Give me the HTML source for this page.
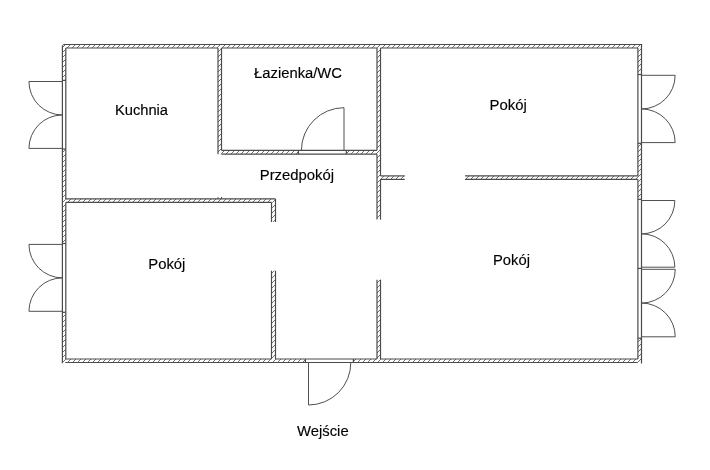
<!DOCTYPE html>
<html><head><meta charset="utf-8"><style>
html,body{margin:0;padding:0;background:#fff;width:710px;height:470px;overflow:hidden}
svg{display:block}
</style></head><body>
<svg style="will-change:transform" width="710" height="470" viewBox="0 0 710 470">
<defs><pattern id="h" patternUnits="userSpaceOnUse" width="5" height="5">
<path d="M-1,1 L1,-1 M0,5 L5,0 M4,6 L6,4" stroke="#707070" stroke-width="1.0"/></pattern></defs>
<rect width="710" height="470" fill="#fff"/>
<rect x="62.4" y="44.5" width="579.10" height="3.50" fill="url(#h)"/>
<rect x="62.4" y="48.0" width="3.40" height="32.40" fill="url(#h)"/>
<rect x="62.4" y="149.0" width="3.40" height="94.50" fill="url(#h)"/>
<rect x="62.4" y="312.3" width="3.40" height="46.70" fill="url(#h)"/>
<rect x="637.9" y="48.0" width="3.60" height="26.50" fill="url(#h)"/>
<rect x="637.9" y="143.3" width="3.60" height="56.00" fill="url(#h)"/>
<rect x="637.9" y="338.2" width="3.60" height="20.80" fill="url(#h)"/>
<rect x="62.4" y="359.0" width="243.00" height="3.50" fill="url(#h)"/>
<rect x="353.4" y="359.0" width="288.10" height="3.50" fill="url(#h)"/>
<rect x="218.0" y="48.0" width="3.50" height="106.20" fill="url(#h)"/>
<rect x="221.5" y="150.3" width="76.90" height="3.90" fill="url(#h)"/>
<rect x="346.3" y="150.3" width="30.70" height="3.90" fill="url(#h)"/>
<rect x="377.0" y="48.0" width="3.50" height="171.60" fill="url(#h)"/>
<rect x="377.0" y="279.7" width="3.50" height="79.30" fill="url(#h)"/>
<rect x="380.5" y="175.9" width="24.30" height="3.50" fill="url(#h)"/>
<rect x="465.0" y="175.9" width="172.90" height="3.50" fill="url(#h)"/>
<rect x="65.8" y="198.9" width="209.70" height="3.50" fill="url(#h)"/>
<rect x="271.5" y="202.4" width="4.00" height="19.60" fill="url(#h)"/>
<rect x="271.5" y="270.7" width="4.00" height="88.30" fill="url(#h)"/>
<line x1="63.6" y1="44.5" x2="642.1" y2="44.5" stroke="#4a4a4a" stroke-width="1.2"/>
<line x1="65.4" y1="362.5" x2="637.8" y2="362.5" stroke="#4a4a4a" stroke-width="1.2"/>
<line x1="62.4" y1="45.6" x2="62.4" y2="363.3" stroke="#4a4a4a" stroke-width="1.2"/>
<line x1="641.5" y1="43.9" x2="641.5" y2="363.5" stroke="#4a4a4a" stroke-width="1.2"/>
<line x1="62.4" y1="45.9" x2="63.9" y2="44.5" stroke="#4a4a4a" stroke-width="1.0"/>
<line x1="65.8" y1="48.0" x2="218.0" y2="48.0" stroke="#4a4a4a" stroke-width="1.2"/>
<line x1="221.5" y1="48.0" x2="377.0" y2="48.0" stroke="#4a4a4a" stroke-width="1.2"/>
<line x1="380.5" y1="48.0" x2="637.9" y2="48.0" stroke="#4a4a4a" stroke-width="1.2"/>
<line x1="65.8" y1="359.0" x2="271.5" y2="359.0" stroke="#4a4a4a" stroke-width="1.2"/>
<line x1="275.5" y1="359.0" x2="377.0" y2="359.0" stroke="#4a4a4a" stroke-width="1.2"/>
<line x1="380.5" y1="359.0" x2="637.9" y2="359.0" stroke="#4a4a4a" stroke-width="1.2"/>
<line x1="65.8" y1="48.0" x2="65.8" y2="198.9" stroke="#4a4a4a" stroke-width="1.2"/>
<line x1="65.8" y1="202.4" x2="65.8" y2="359.0" stroke="#4a4a4a" stroke-width="1.2"/>
<line x1="637.9" y1="48.0" x2="637.9" y2="175.9" stroke="#4a4a4a" stroke-width="1.2"/>
<line x1="637.9" y1="179.4" x2="637.9" y2="359.0" stroke="#4a4a4a" stroke-width="1.2"/>
<line x1="218.0" y1="48.0" x2="218.0" y2="154.2" stroke="#4a4a4a" stroke-width="1.2"/>
<line x1="221.5" y1="48.0" x2="221.5" y2="150.3" stroke="#4a4a4a" stroke-width="1.2"/>
<line x1="221.5" y1="154.2" x2="377.0" y2="154.2" stroke="#4a4a4a" stroke-width="1.2"/>
<line x1="221.5" y1="150.3" x2="377.0" y2="150.3" stroke="#4a4a4a" stroke-width="1.2"/>
<line x1="298.4" y1="150.3" x2="298.4" y2="154.2" stroke="#4a4a4a" stroke-width="1.2"/>
<line x1="346.3" y1="150.3" x2="346.3" y2="154.2" stroke="#4a4a4a" stroke-width="1.2"/>
<line x1="377.0" y1="48.0" x2="377.0" y2="150.3" stroke="#4a4a4a" stroke-width="1.2"/>
<line x1="377.0" y1="154.2" x2="377.0" y2="219.6" stroke="#4a4a4a" stroke-width="1.2"/>
<line x1="380.5" y1="48.0" x2="380.5" y2="175.9" stroke="#4a4a4a" stroke-width="1.2"/>
<line x1="380.5" y1="179.4" x2="380.5" y2="219.6" stroke="#4a4a4a" stroke-width="1.2"/>
<line x1="377.0" y1="219.6" x2="380.5" y2="219.6" stroke="#4a4a4a" stroke-width="0.0"/>
<line x1="377.0" y1="279.7" x2="377.0" y2="359.0" stroke="#4a4a4a" stroke-width="1.2"/>
<line x1="380.5" y1="279.7" x2="380.5" y2="359.0" stroke="#4a4a4a" stroke-width="1.2"/>
<line x1="380.5" y1="175.9" x2="404.8" y2="175.9" stroke="#4a4a4a" stroke-width="1.2"/>
<line x1="380.5" y1="179.4" x2="404.8" y2="179.4" stroke="#4a4a4a" stroke-width="1.2"/>
<line x1="465.0" y1="175.9" x2="637.9" y2="175.9" stroke="#4a4a4a" stroke-width="1.2"/>
<line x1="465.0" y1="179.4" x2="637.9" y2="179.4" stroke="#4a4a4a" stroke-width="1.2"/>
<line x1="65.8" y1="198.9" x2="275.5" y2="198.9" stroke="#4a4a4a" stroke-width="1.2"/>
<line x1="65.8" y1="202.4" x2="271.5" y2="202.4" stroke="#4a4a4a" stroke-width="1.2"/>
<line x1="275.5" y1="198.9" x2="275.5" y2="222.0" stroke="#4a4a4a" stroke-width="1.2"/>
<line x1="271.5" y1="202.4" x2="271.5" y2="222.0" stroke="#4a4a4a" stroke-width="1.2"/>
<line x1="271.5" y1="270.7" x2="271.5" y2="359.0" stroke="#4a4a4a" stroke-width="1.2"/>
<line x1="275.5" y1="270.7" x2="275.5" y2="359.0" stroke="#4a4a4a" stroke-width="1.2"/>
<line x1="218.0" y1="197.2" x2="218.0" y2="198.9" stroke="#4a4a4a" stroke-width="1.0"/>
<line x1="221.5" y1="197.0" x2="221.5" y2="198.9" stroke="#4a4a4a" stroke-width="1.0"/>
<line x1="62.4" y1="80.4" x2="65.8" y2="80.4" stroke="#4a4a4a" stroke-width="1.2"/>
<line x1="62.4" y1="149.0" x2="65.8" y2="149.0" stroke="#4a4a4a" stroke-width="1.2"/>
<line x1="62.4" y1="243.5" x2="65.8" y2="243.5" stroke="#4a4a4a" stroke-width="1.2"/>
<line x1="62.4" y1="312.3" x2="65.8" y2="312.3" stroke="#4a4a4a" stroke-width="1.2"/>
<line x1="637.9" y1="74.5" x2="641.5" y2="74.5" stroke="#4a4a4a" stroke-width="1.2"/>
<line x1="637.9" y1="143.3" x2="641.5" y2="143.3" stroke="#4a4a4a" stroke-width="1.2"/>
<line x1="637.9" y1="199.3" x2="641.5" y2="199.3" stroke="#4a4a4a" stroke-width="1.2"/>
<line x1="637.9" y1="268.4" x2="641.5" y2="268.4" stroke="#4a4a4a" stroke-width="1.2"/>
<line x1="637.9" y1="338.2" x2="641.5" y2="338.2" stroke="#4a4a4a" stroke-width="1.2"/>
<line x1="305.4" y1="359.0" x2="305.4" y2="362.5" stroke="#4a4a4a" stroke-width="1.2"/>
<line x1="353.4" y1="359.0" x2="353.4" y2="362.5" stroke="#4a4a4a" stroke-width="1.2"/>
<path d="M344.0 150.3 L344.0 107.7 A42.6 42.6 0 0 0 301.4 150.3" fill="none" stroke="#505050" stroke-width="1.0"/>
<path d="M308.5 362.3 L308.5 405.0 A42.3 42.3 0 0 0 350.8 362.3" fill="none" stroke="#505050" stroke-width="1.0"/>
<path d="M62.4 81.5 L28.95 81.5 A33.45 33.45 0 0 0 62.4 114.95 A33.45 33.45 0 0 0 28.95 148.4 L62.4 148.4" fill="none" stroke="#505050" stroke-width="1.0"/>
<path d="M62.4 244.4 L28.95 244.4 A33.45 33.45 0 0 0 62.4 277.85 A33.45 33.45 0 0 0 28.95 311.3 L62.4 311.3" fill="none" stroke="#505050" stroke-width="1.0"/>
<path d="M641.5 75.3 L675.15 75.3 A33.65 33.65 0 0 1 641.5 108.95 A33.65 33.65 0 0 1 675.15 142.6 L641.5 142.6" fill="none" stroke="#505050" stroke-width="1.0"/>
<path d="M641.5 200.5 L674.85 200.5 A33.35 33.35 0 0 1 641.5 233.85 A33.35 33.35 0 0 1 674.85 267.2 L641.5 267.2" fill="none" stroke="#505050" stroke-width="1.0"/>
<path d="M641.5 269.3 L675.25 269.3 A33.75 33.75 0 0 1 641.5 303.05 A33.75 33.75 0 0 1 675.25 336.8 L641.5 336.8" fill="none" stroke="#505050" stroke-width="1.0"/>
<g opacity="0.999" transform="translate(114.915,114.900) rotate(0.02) scale(0.9558,1)"><text x="0" y="0" font-family="Liberation Sans" font-size="15.4" fill="#000" stroke="#000" stroke-width="0.15">Kuchnia</text></g>
<g opacity="0.999" transform="translate(254.054,77.700) rotate(0.02) scale(0.9608,1)"><text x="0" y="0" font-family="Liberation Sans" font-size="15.4" fill="#000" stroke="#000" stroke-width="0.15">Łazienka/WC</text></g>
<g opacity="0.999" transform="translate(259.760,179.500) rotate(0.02) scale(0.9663,1)"><text x="0" y="0" font-family="Liberation Sans" font-size="15.4" fill="#000" stroke="#000" stroke-width="0.15">Przedpokój</text></g>
<g opacity="0.999" transform="translate(489.559,109.700) rotate(0.02) scale(0.9701,1)"><text x="0" y="0" font-family="Liberation Sans" font-size="15.4" fill="#000" stroke="#000" stroke-width="0.15">Pokój</text></g>
<g opacity="0.999" transform="translate(492.961,264.500) rotate(0.02) scale(0.9611,1)"><text x="0" y="0" font-family="Liberation Sans" font-size="15.4" fill="#000" stroke="#000" stroke-width="0.15">Pokój</text></g>
<g opacity="0.999" transform="translate(148.219,269.300) rotate(0.02) scale(0.9666,1)"><text x="0" y="0" font-family="Liberation Sans" font-size="15.4" fill="#000" stroke="#000" stroke-width="0.15">Pokój</text></g>
<g opacity="0.999" transform="translate(296.976,435.700) rotate(0.02) scale(0.9644,1)"><text x="0" y="0" font-family="Liberation Sans" font-size="15.4" fill="#000" stroke="#000" stroke-width="0.15">Wejście</text></g>
</svg>
</body></html>
